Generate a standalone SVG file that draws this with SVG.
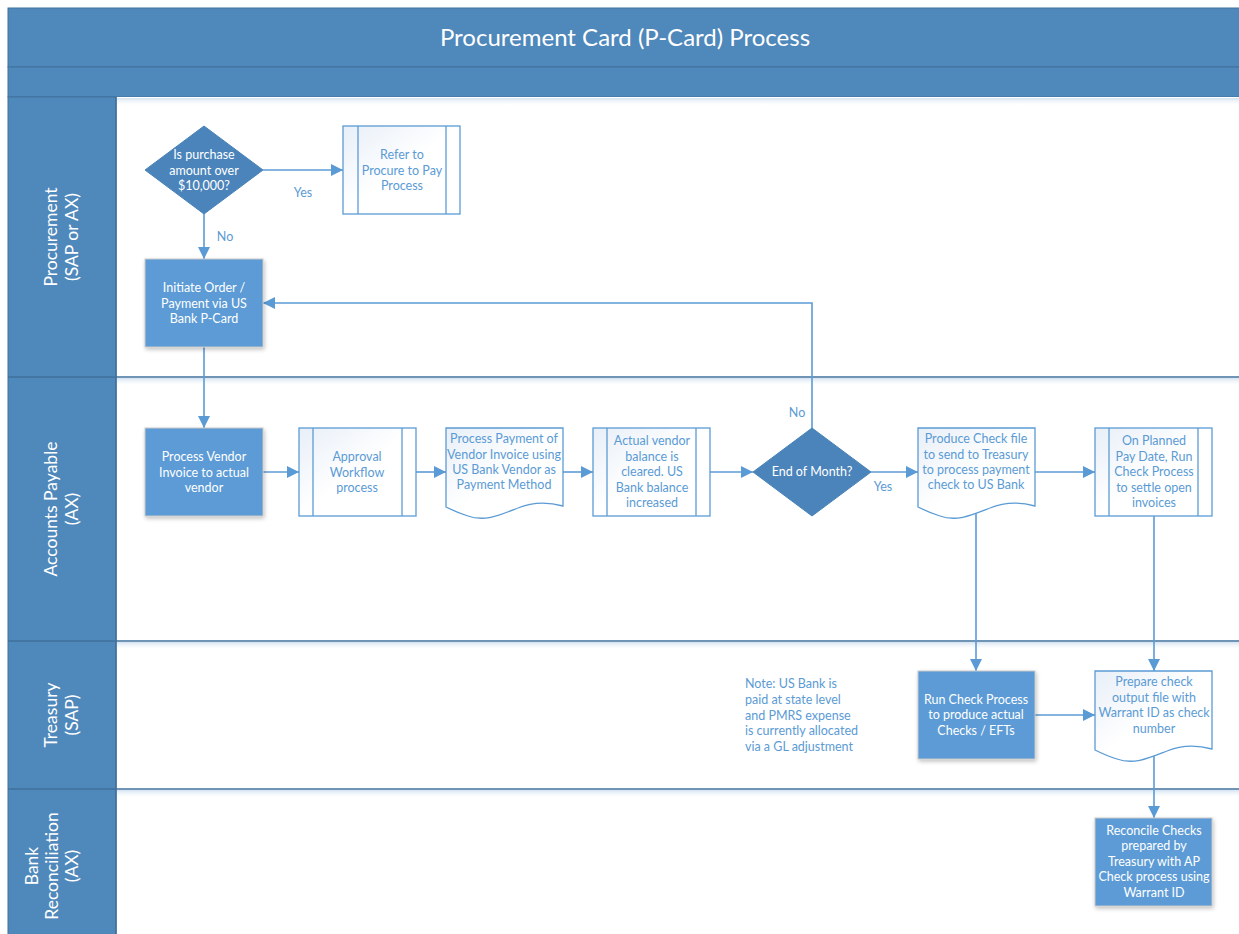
<svg xmlns="http://www.w3.org/2000/svg" width="1239" height="934" viewBox="0 0 1239 934">
  <style>
    .band { fill: #4f88bb; stroke: #41719c; stroke-width: 1; }
    .lanebg { fill: #ffffff; }
    .sep { stroke: #41719c; stroke-width: 1.5; }
    .title { font-family: Lato, "Liberation Sans", sans-serif; font-size: 24px; fill: #ffffff; text-anchor: middle; }
    .lane { font-family: Lato, "Liberation Sans", sans-serif; font-size: 17.5px; fill: #ffffff; text-anchor: middle; }
    .t { font-family: Lato, "Liberation Sans", sans-serif; font-size: 12.5px; text-anchor: middle; }
    .w { fill: #ffffff; }
    .b { fill: #5b9bd5; }
    .note { font-family: Lato, "Liberation Sans", sans-serif; font-size: 12.5px; fill: #5b9bd5; }
    .lbl { font-family: Lato, "Liberation Sans", sans-serif; font-size: 12.5px; fill: #5b9bd5; text-anchor: middle; }
    .task { fill: #5b9bd5; stroke: #c9c9c9; stroke-width: 1; filter: url(#shadow); }
    .dec { fill: #4a84ba; stroke: #4a84ba; stroke-width: 1; }
    .sub { fill: url(#pale); stroke: #5b9bd5; stroke-width: 1.3; }
    .subline { stroke: #5b9bd5; stroke-width: 1.3; }
    .conn { fill: none; stroke: #5b9bd5; stroke-width: 1.6; marker-end: url(#arrow); }
  </style>
  <defs>
    <linearGradient id="pale" x1="0" y1="0" x2="1" y2="1">
      <stop offset="0" stop-color="#e8eff8"/>
      <stop offset="0.5" stop-color="#ffffff"/>
      <stop offset="1" stop-color="#ffffff"/>
    </linearGradient>
    <linearGradient id="fade" x1="0" y1="0" x2="0" y2="1">
      <stop offset="0" stop-color="#c9dbee" stop-opacity="0.8"/>
      <stop offset="1" stop-color="#ffffff" stop-opacity="0"/>
    </linearGradient>
    <filter id="shadow" x="-10%" y="-10%" width="125%" height="125%">
      <feGaussianBlur in="SourceAlpha" stdDeviation="2"/>
      <feOffset dx="1" dy="2" result="o"/>
      <feComponentTransfer><feFuncA type="linear" slope="0.25"/></feComponentTransfer>
      <feMerge><feMergeNode/><feMergeNode in="SourceGraphic"/></feMerge>
    </filter>
    <marker id="arrow" viewBox="0 0 10 10" refX="10" refY="5" markerUnits="userSpaceOnUse" markerWidth="12" markerHeight="12" orient="auto">
      <path d="M0,0 L10,5 L0,10 Z" fill="#5b9bd5"/>
    </marker>
  </defs>

  <rect x="0" y="0" width="1239" height="934" fill="#ffffff"/>

  <!-- pool frame -->
  <g id="pool">
    <rect class="band" x="8" y="8" width="1240" height="59"/>
    <rect class="band" x="8" y="67" width="1240" height="30"/>
    <rect class="lanebg" x="116" y="97" width="1123" height="837"/>
    <rect class="band" x="8" y="97" width="108" height="850"/>
    <text class="title" x="625" y="46">Procurement Card (P-Card) Process</text>
    <!-- lane shading under separators -->
    <rect x="117" y="98" width="1122" height="8" fill="url(#fade)"/>
    <rect x="117" y="378" width="1122" height="8" fill="url(#fade)"/>
    <rect x="117" y="642" width="1122" height="8" fill="url(#fade)"/>
    <rect x="117" y="790" width="1122" height="8" fill="url(#fade)"/>
    <line class="sep" x1="8" y1="377" x2="1239" y2="377"/>
    <line class="sep" x1="8" y1="641" x2="1239" y2="641"/>
    <line class="sep" x1="8" y1="789" x2="1239" y2="789"/>
    <line class="sep" x1="116" y1="97" x2="116" y2="934"/>
  </g>

  <!-- lane titles -->
  <g id="lane-procurement">
    <text class="lane" transform="translate(62,237) rotate(-90)"><tspan x="0" y="-5">Procurement</tspan><tspan x="0" y="16">(SAP or AX)</tspan></text>
  </g>
  <g id="lane-ap">
    <text class="lane" transform="translate(62,509) rotate(-90)"><tspan x="0" y="-5">Accounts Payable</tspan><tspan x="0" y="16">(AX)</tspan></text>
  </g>
  <g id="lane-treasury">
    <text class="lane" transform="translate(62,715) rotate(-90)"><tspan x="0" y="-5">Treasury</tspan><tspan x="0" y="16">(SAP)</tspan></text>
  </g>
  <g id="lane-bankrec">
    <text class="lane" transform="translate(62,866) rotate(-90)"><tspan x="0" y="-24">Bank</tspan><tspan x="0" y="-4">Reconciliation</tspan><tspan x="0" y="16">(AX)</tspan></text>
  </g>

  <!-- connectors -->
  <g id="connectors">
    <path class="conn" d="M263,170 L343,170"/>
    <path class="conn" d="M204,214 L204,259"/>
    <path class="conn" d="M204,347 L204,428"/>
    <path class="conn" d="M263,472 L299,472"/>
    <path class="conn" d="M416,472 L446,472"/>
    <path class="conn" d="M563,472 L593,472"/>
    <path class="conn" d="M710,472 L753,472"/>
    <path class="conn" d="M812,428 L812,303 L263,303"/>
    <path class="conn" d="M871,472 L918,472"/>
    <path class="conn" d="M1035,472 L1095,472"/>
    <path class="conn" d="M976,511 L976,671"/>
    <path class="conn" d="M1154,516 L1154,671"/>
    <path class="conn" d="M1035,715 L1095,715"/>
    <path class="conn" d="M1154,754 L1154,818"/>
    <text class="lbl" x="303" y="197">Yes</text>
    <text class="lbl" x="225" y="241">No</text>
    <text class="lbl" x="797" y="417">No</text>
    <text class="lbl" x="883" y="491">Yes</text>
  </g>

  <!-- procurement lane -->
  <g id="n-over10k">
    <path class="dec" d="M204,126 L263,170 L204,214 L145,170 Z"/>
    <text class="t w"><tspan x="204" y="159">Is purchase</tspan><tspan x="204" y="175">amount over</tspan><tspan x="204" y="190">$10,000?</tspan></text>
  </g>
  <g id="n-refer">
    <rect class="sub" x="343" y="126" width="117" height="88"/>
    <line class="subline" x1="358" y1="126" x2="358" y2="214"/>
    <line class="subline" x1="446" y1="126" x2="446" y2="214"/>
    <text class="t b"><tspan x="402" y="159">Refer to</tspan><tspan x="402" y="175">Procure to Pay</tspan><tspan x="402" y="190">Process</tspan></text>
  </g>
  <g id="n-initiate">
    <rect class="task" x="145" y="259" width="118" height="88"/>
    <text class="t w"><tspan x="204" y="292">Initiate Order /</tspan><tspan x="204" y="308">Payment via US</tspan><tspan x="204" y="323">Bank P-Card</tspan></text>
  </g>

  <!-- accounts payable lane -->
  <g id="n-vendor-invoice">
    <rect class="task" x="145" y="428" width="118" height="88"/>
    <text class="t w"><tspan x="204" y="461">Process Vendor</tspan><tspan x="204" y="477">Invoice to actual</tspan><tspan x="204" y="492">vendor</tspan></text>
  </g>
  <g id="n-approval">
    <rect class="sub" x="299" y="428" width="117" height="88"/>
    <line class="subline" x1="313" y1="428" x2="313" y2="516"/>
    <line class="subline" x1="402" y1="428" x2="402" y2="516"/>
    <text class="t b"><tspan x="357" y="461">Approval</tspan><tspan x="357" y="477">Workflow</tspan><tspan x="357" y="492">process</tspan></text>
  </g>
  <g id="n-payment">
    <path class="sub" d="M446,428 L563,428 L563,506 C545,501 530,503 518,508 C500,515 485,522 468,516 C458,513 452,510 446,507 Z"/>
    <text class="t b"><tspan x="504" y="443">Process Payment of</tspan><tspan x="504" y="459">Vendor Invoice using</tspan><tspan x="504" y="474">US Bank Vendor as</tspan><tspan x="504" y="489">Payment Method</tspan></text>
  </g>
  <g id="n-balance">
    <rect class="sub" x="593" y="428" width="117" height="88"/>
    <line class="subline" x1="607" y1="428" x2="607" y2="516"/>
    <line class="subline" x1="696" y1="428" x2="696" y2="516"/>
    <text class="t b"><tspan x="652" y="445">Actual vendor</tspan><tspan x="652" y="461">balance is</tspan><tspan x="652" y="476">cleared. US</tspan><tspan x="652" y="492">Bank balance</tspan><tspan x="652" y="507">increased</tspan></text>
  </g>
  <g id="n-month-end">
    <path class="dec" d="M812,428 L871,472 L812,516 L753,472 Z"/>
    <text class="t w" x="812" y="476">End of Month?</text>
  </g>
  <g id="n-check-file">
    <path class="sub" d="M918,428 L1035,428 L1035,506 C1017,501 1002,503 990,508 C972,515 957,522 940,516 C930,513 924,510 918,507 Z"/>
    <text class="t b"><tspan x="976" y="443">Produce Check file</tspan><tspan x="976" y="459">to send to Treasury</tspan><tspan x="976" y="474">to process payment</tspan><tspan x="976" y="489">check to US Bank</tspan></text>
  </g>
  <g id="n-pay-date">
    <rect class="sub" x="1095" y="428" width="117" height="88"/>
    <line class="subline" x1="1109" y1="428" x2="1109" y2="516"/>
    <line class="subline" x1="1198" y1="428" x2="1198" y2="516"/>
    <text class="t b"><tspan x="1154" y="445">On Planned</tspan><tspan x="1154" y="461">Pay Date, Run</tspan><tspan x="1154" y="476">Check Process</tspan><tspan x="1154" y="492">to settle open</tspan><tspan x="1154" y="507">invoices</tspan></text>
  </g>

  <!-- treasury lane -->
  <g id="n-note">
    <text class="note"><tspan x="745" y="688">Note: US Bank is</tspan><tspan x="745" y="704">paid at state level</tspan><tspan x="745" y="720">and PMRS expense</tspan><tspan x="745" y="735">is currently allocated</tspan><tspan x="745" y="751">via a GL adjustment</tspan></text>
  </g>
  <g id="n-run-check">
    <rect class="task" x="918" y="671" width="117" height="88"/>
    <text class="t w"><tspan x="976" y="704">Run Check Process</tspan><tspan x="976" y="719">to produce actual</tspan><tspan x="976" y="735">Checks / EFTs</tspan></text>
  </g>
  <g id="n-output-file">
    <path class="sub" d="M1095,671 L1212,671 L1212,749 C1194,744 1179,746 1167,751 C1149,758 1134,765 1117,759 C1107,756 1101,753 1095,750 Z"/>
    <text class="t b"><tspan x="1154" y="686">Prepare check</tspan><tspan x="1154" y="702">output file with</tspan><tspan x="1154" y="717">Warrant ID as check</tspan><tspan x="1154" y="733">number</tspan></text>
  </g>

  <!-- bank reconciliation lane -->
  <g id="n-reconcile">
    <rect class="task" x="1095" y="818" width="117" height="88"/>
    <text class="t w"><tspan x="1154" y="835">Reconcile Checks</tspan><tspan x="1154" y="850">prepared by</tspan><tspan x="1154" y="866">Treasury with AP</tspan><tspan x="1154" y="881">Check process using</tspan><tspan x="1154" y="897">Warrant ID</tspan></text>
  </g>
</svg>
